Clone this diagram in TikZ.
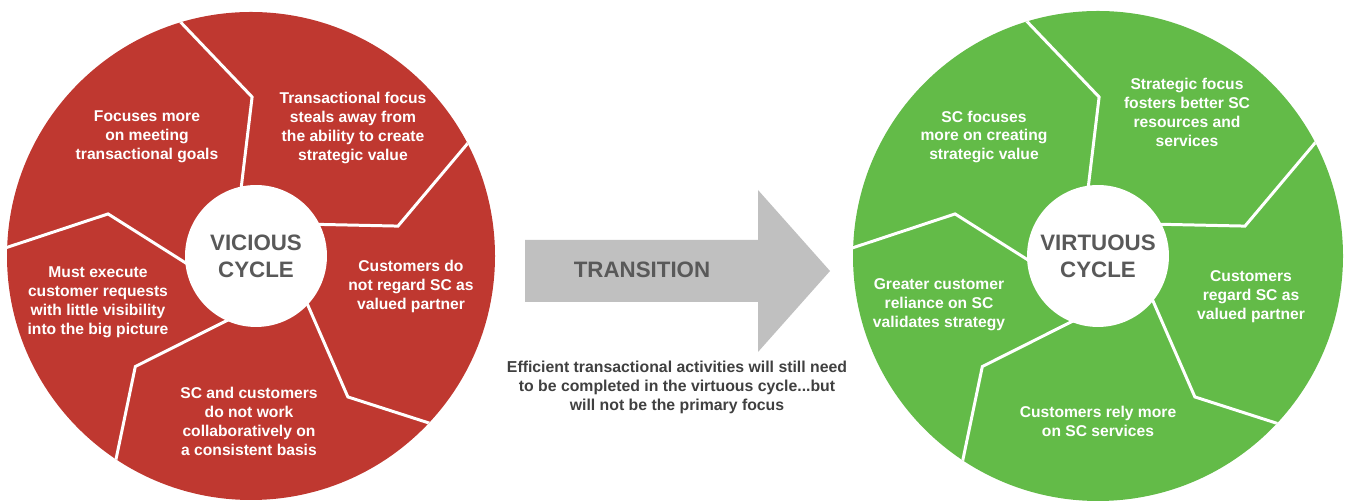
\documentclass[tikz,border=0pt]{standalone}
\usepackage{fontspec}
\setmainfont{Liberation Sans}
\usetikzlibrary{positioning, calc}
\definecolor{viciousred}{RGB}{191, 56, 48}
\definecolor{virtuousgreen}{RGB}{99, 187, 72}
\definecolor{arrowgrey}{RGB}{192, 192, 192}
\definecolor{hubgrey}{RGB}{89, 89, 89}
\definecolor{notegrey}{RGB}{64, 64, 64}

\tikzset{
  segtext/.style={text=white, font=\fontsize{8.9}{10.8}\selectfont\bfseries,
                  align=center, inner sep=0pt},
  hub/.style={circle, fill=white, minimum size=2.84cm, inner sep=0pt, text=hubgrey,
              font=\fontsize{12.7}{15.3}\selectfont\bfseries, align=center},
  spoke/.style={white, line width=1.7pt, line join=miter},
}

\begin{document}
\begin{tikzpicture}[x=0.02cm, y=0.02cm]
  \useasboundingbox (0,0) rectangle (1346,503);

  % vicious cycle wheel
  \begin{scope}[shift={(251,247)}]
    \fill[viciousred] (0,0) circle[radius=244];
    \clip (0,0) circle[radius=244];
    \foreach \outer/\bend/\bendr/\inner in {109.5/89.6/159/100.5, 29.7/11.5/150/32.2,
        -40.6/-55.5/171/-33.7, 238.6/223.7/160/258, 180/163.6/149/190.5}
      \draw[spoke] (\outer:270) -- (\bend:\bendr) -- (\inner:60);
  \end{scope}
  \node[hub] (vicious) at (256,247) {VICIOUS\\CYCLE};

  \node[segtext] (meeting) at (147,366) {Focuses more\\on meeting\\transactional goals};
  \node[segtext] (steals) at (353,375) {Transactional focus\\steals away from\\the ability to create\\strategic value};
  \node[segtext] (noregard) at (411,217) {Customers do\\not regard SC as\\valued partner};
  \node[segtext] (collab) at (249,82) {SC and customers\\do not work\\collaboratively on\\a consistent basis};
  \node[segtext] (execute) at (98,201) {Must execute\\customer requests\\with little visibility\\into the big picture};

  % transition arrow
  \fill[arrowgrey] (525,263) -- (758,263) -- (758,313) -- (830,232)
    -- (758,151) -- (758,201) -- (525,201) -- cycle;
  \node[text=hubgrey, font=\fontsize{12.7}{15}\selectfont\bfseries] (transition) at (642,233) {TRANSITION};
  \node[text=notegrey, font=\fontsize{9}{10.8}\selectfont\bfseries, align=center] (note) at (677,116)
    {Efficient transactional activities will still need\\to be completed in the virtuous cycle...but\\will not be the primary focus};

  % virtuous cycle wheel
  \begin{scope}[shift={(1098,247)}]
    \fill[virtuousgreen] (0,0) circle[radius=245];
    \clip (0,0) circle[radius=245];
    \foreach \outer/\bend/\bendr/\inner in {109.5/89.6/159/100.5, 29.7/11.5/150/32.2,
        -40.6/-55.5/171/-33.7, 238.6/223.7/160/258, 180/163.6/149/190.5}
      \draw[spoke] (\outer:270) -- (\bend:\bendr) -- (\inner:60);
  \end{scope}
  \node[hub] (virtuous) at (1098,247) {VIRTUOUS\\CYCLE};

  \node[segtext] (creating) at (984,366) {SC focuses\\more on creating\\strategic value};
  \node[segtext] (fosters) at (1187,391) {Strategic focus\\fosters better SC\\resources and\\services};
  \node[segtext] (regard) at (1251,206) {Customers\\regard SC as\\valued partner};
  \node[segtext] (rely) at (1098,82) {Customers rely more\\on SC services};
  \node[segtext] (reliance) at (939,198) {Greater customer\\reliance on SC\\validates strategy};
\end{tikzpicture}
\end{document}
